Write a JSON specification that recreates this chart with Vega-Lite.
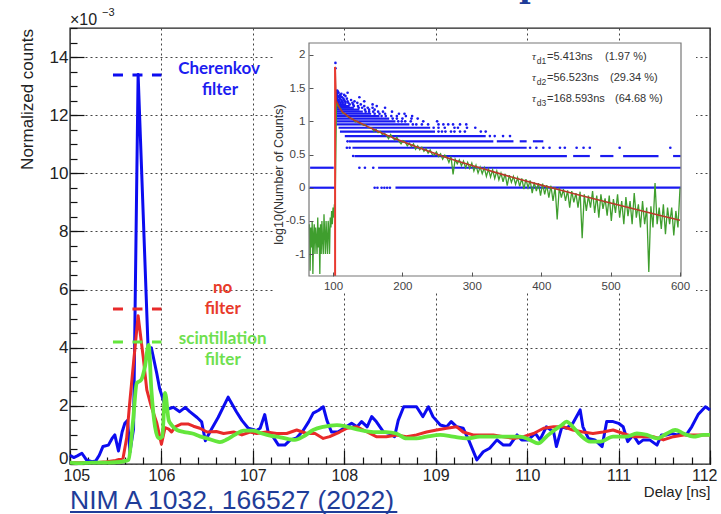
{
"$schema": "https://vega.github.io/schema/vega-lite/v6.json",
"width": 640, "height": 436,
"autosize": {"type": "none"},
"padding": {"left": 70, "top": 28, "right": 11, "bottom": 50},
"background": "#ffffff",
"config": {"view": {"stroke": "#222222", "strokeWidth": 1.4}, "font": "Liberation Sans"},
"datasets": {
"main": [
{"s":"b","t":105.00,"v":0.30},{"s":"b","t":105.04,"v":0.22},{"s":"b","t":105.08,"v":0.28},{"s":"b","t":105.13,"v":0.37},{"s":"b","t":105.18,"v":0.14},{"s":"b","t":105.24,"v":0.08},{"s":"b","t":105.28,"v":0.10},{"s":"b","t":105.32,"v":0.30},{"s":"b","t":105.36,"v":0.60},{"s":"b","t":105.42,"v":0.65},{"s":"b","t":105.46,"v":0.88},{"s":"b","t":105.49,"v":1.00},{"s":"b","t":105.53,"v":0.45},{"s":"b","t":105.57,"v":1.10},{"s":"b","t":105.60,"v":1.40},{"s":"b","t":105.63,"v":1.50},{"s":"b","t":105.655,"v":0.40},{"s":"b","t":105.695,"v":1.20},{"s":"b","t":105.745,"v":13.40},{"s":"b","t":105.855,"v":3.90},{"s":"b","t":105.89,"v":4.00},{"s":"b","t":105.95,"v":3.10},{"s":"b","t":105.98,"v":2.60},{"s":"b","t":106.04,"v":2.00},{"s":"b","t":106.08,"v":1.90},{"s":"b","t":106.13,"v":1.95},{"s":"b","t":106.20,"v":1.80},{"s":"b","t":106.26,"v":1.95},{"s":"b","t":106.31,"v":1.80},{"s":"b","t":106.39,"v":1.60},{"s":"b","t":106.44,"v":1.45},{"s":"b","t":106.48,"v":0.80},{"s":"b","t":106.53,"v":1.10},{"s":"b","t":106.62,"v":1.60},{"s":"b","t":106.73,"v":2.30},{"s":"b","t":106.82,"v":1.80},{"s":"b","t":106.88,"v":1.50},{"s":"b","t":106.95,"v":1.23},{"s":"b","t":107.04,"v":1.15},{"s":"b","t":107.08,"v":1.23},{"s":"b","t":107.13,"v":1.70},{"s":"b","t":107.17,"v":1.05},{"s":"b","t":107.22,"v":0.94},{"s":"b","t":107.28,"v":0.65},{"s":"b","t":107.35,"v":0.65},{"s":"b","t":107.41,"v":0.83},{"s":"b","t":107.48,"v":0.90},{"s":"b","t":107.55,"v":1.15},{"s":"b","t":107.61,"v":1.45},{"s":"b","t":107.66,"v":1.75},{"s":"b","t":107.72,"v":1.85},{"s":"b","t":107.77,"v":1.97},{"s":"b","t":107.81,"v":1.50},{"s":"b","t":107.86,"v":1.10},{"s":"b","t":107.93,"v":1.10},{"s":"b","t":108.03,"v":1.30},{"s":"b","t":108.08,"v":1.40},{"s":"b","t":108.14,"v":1.28},{"s":"b","t":108.19,"v":1.46},{"s":"b","t":108.25,"v":1.28},{"s":"b","t":108.30,"v":1.63},{"s":"b","t":108.35,"v":1.46},{"s":"b","t":108.43,"v":1.10},{"s":"b","t":108.50,"v":1.05},{"s":"b","t":108.55,"v":0.94},{"s":"b","t":108.59,"v":1.50},{"s":"b","t":108.65,"v":1.97},{"s":"b","t":108.79,"v":1.97},{"s":"b","t":108.86,"v":1.63},{"s":"b","t":108.92,"v":1.97},{"s":"b","t":108.97,"v":1.63},{"s":"b","t":109.05,"v":1.34},{"s":"b","t":109.12,"v":1.28},{"s":"b","t":109.17,"v":1.46},{"s":"b","t":109.23,"v":1.28},{"s":"b","t":109.30,"v":1.23},{"s":"b","t":109.36,"v":0.83},{"s":"b","t":109.45,"v":0.14},{"s":"b","t":109.52,"v":0.42},{"s":"b","t":109.59,"v":0.54},{"s":"b","t":109.67,"v":0.83},{"s":"b","t":109.74,"v":0.65},{"s":"b","t":109.81,"v":0.65},{"s":"b","t":109.89,"v":1.00},{"s":"b","t":109.94,"v":0.83},{"s":"b","t":110.01,"v":0.83},{"s":"b","t":110.09,"v":1.05},{"s":"b","t":110.14,"v":0.83},{"s":"b","t":110.21,"v":1.28},{"s":"b","t":110.29,"v":1.10},{"s":"b","t":110.32,"v":0.60},{"s":"b","t":110.38,"v":1.28},{"s":"b","t":110.43,"v":1.23},{"s":"b","t":110.50,"v":1.40},{"s":"b","t":110.58,"v":1.86},{"s":"b","t":110.61,"v":1.28},{"s":"b","t":110.67,"v":0.88},{"s":"b","t":110.74,"v":0.83},{"s":"b","t":110.82,"v":0.60},{"s":"b","t":110.87,"v":1.46},{"s":"b","t":110.94,"v":1.46},{"s":"b","t":111.00,"v":1.40},{"s":"b","t":111.05,"v":1.28},{"s":"b","t":111.10,"v":0.77},{"s":"b","t":111.16,"v":1.00},{"s":"b","t":111.22,"v":0.71},{"s":"b","t":111.27,"v":0.83},{"s":"b","t":111.34,"v":0.83},{"s":"b","t":111.42,"v":0.65},{"s":"b","t":111.47,"v":1.00},{"s":"b","t":111.53,"v":1.00},{"s":"b","t":111.58,"v":1.05},{"s":"b","t":111.64,"v":1.00},{"s":"b","t":111.69,"v":1.05},{"s":"b","t":111.74,"v":1.00},{"s":"b","t":111.80,"v":1.28},{"s":"b","t":111.87,"v":1.70},{"s":"b","t":111.95,"v":1.97},{"s":"b","t":112.00,"v":1.86},
{"s":"r","t":105.00,"v":0.05},{"s":"r","t":105.10,"v":0.04},{"s":"r","t":105.20,"v":0.05},{"s":"r","t":105.30,"v":0.05},{"s":"r","t":105.40,"v":0.08},{"s":"r","t":105.50,"v":0.12},{"s":"r","t":105.58,"v":0.20},{"s":"r","t":105.62,"v":0.90},{"s":"r","t":105.65,"v":2.00},{"s":"r","t":105.68,"v":3.00},{"s":"r","t":105.745,"v":5.10},{"s":"r","t":105.80,"v":3.70},{"s":"r","t":105.84,"v":2.55},{"s":"r","t":105.89,"v":1.97},{"s":"r","t":105.95,"v":1.40},{"s":"r","t":106.00,"v":0.68},{"s":"r","t":106.04,"v":1.25},{"s":"r","t":106.08,"v":1.20},{"s":"r","t":106.11,"v":1.10},{"s":"r","t":106.15,"v":1.28},{"s":"r","t":106.22,"v":1.38},{"s":"r","t":106.29,"v":1.38},{"s":"r","t":106.35,"v":1.30},{"s":"r","t":106.42,"v":1.23},{"s":"r","t":106.50,"v":1.10},{"s":"r","t":106.60,"v":1.12},{"s":"r","t":106.68,"v":1.05},{"s":"r","t":106.79,"v":1.10},{"s":"r","t":106.88,"v":1.00},{"s":"r","t":106.97,"v":1.10},{"s":"r","t":107.04,"v":1.05},{"s":"r","t":107.15,"v":1.10},{"s":"r","t":107.26,"v":1.05},{"s":"r","t":107.37,"v":1.05},{"s":"r","t":107.48,"v":1.17},{"s":"r","t":107.59,"v":1.05},{"s":"r","t":107.68,"v":1.05},{"s":"r","t":107.77,"v":0.88},{"s":"r","t":107.84,"v":0.94},{"s":"r","t":107.95,"v":1.10},{"s":"r","t":108.03,"v":1.23},{"s":"r","t":108.14,"v":1.28},{"s":"r","t":108.25,"v":1.10},{"s":"r","t":108.35,"v":0.94},{"s":"r","t":108.46,"v":0.94},{"s":"r","t":108.57,"v":1.00},{"s":"r","t":108.68,"v":0.94},{"s":"r","t":108.79,"v":1.00},{"s":"r","t":108.90,"v":1.10},{"s":"r","t":109.01,"v":1.17},{"s":"r","t":109.12,"v":1.23},{"s":"r","t":109.23,"v":1.28},{"s":"r","t":109.30,"v":1.10},{"s":"r","t":109.41,"v":1.00},{"s":"r","t":109.52,"v":1.00},{"s":"r","t":109.63,"v":1.00},{"s":"r","t":109.74,"v":0.94},{"s":"r","t":109.85,"v":0.88},{"s":"r","t":109.96,"v":0.94},{"s":"r","t":110.07,"v":1.05},{"s":"r","t":110.18,"v":1.23},{"s":"r","t":110.29,"v":1.28},{"s":"r","t":110.40,"v":1.28},{"s":"r","t":110.50,"v":1.17},{"s":"r","t":110.61,"v":1.10},{"s":"r","t":110.72,"v":1.05},{"s":"r","t":110.83,"v":1.10},{"s":"r","t":110.94,"v":1.17},{"s":"r","t":111.05,"v":1.05},{"s":"r","t":111.16,"v":0.94},{"s":"r","t":111.27,"v":0.94},{"s":"r","t":111.38,"v":0.94},{"s":"r","t":111.49,"v":0.83},{"s":"r","t":111.60,"v":0.94},{"s":"r","t":111.71,"v":1.00},{"s":"r","t":111.82,"v":1.00},{"s":"r","t":111.93,"v":1.00},{"s":"r","t":112.00,"v":1.00},
{"s":"g","t":105.00,"v":0.05},{"s":"g","t":105.10,"v":0.03},{"s":"g","t":105.20,"v":0.04},{"s":"g","t":105.30,"v":0.05},{"s":"g","t":105.40,"v":0.05},{"s":"g","t":105.50,"v":0.06},{"s":"g","t":105.60,"v":0.10},{"s":"g","t":105.64,"v":0.15},{"s":"g","t":105.69,"v":1.50},{"s":"g","t":105.73,"v":2.78},{"s":"g","t":105.78,"v":2.90},{"s":"g","t":105.82,"v":3.35},{"s":"g","t":105.86,"v":4.10},{"s":"g","t":105.89,"v":2.55},{"s":"g","t":105.93,"v":1.28},{"s":"g","t":105.97,"v":0.88},{"s":"g","t":106.01,"v":0.95},{"s":"g","t":106.04,"v":2.45},{"s":"g","t":106.08,"v":1.50},{"s":"g","t":106.11,"v":1.35},{"s":"g","t":106.17,"v":1.17},{"s":"g","t":106.25,"v":1.10},{"s":"g","t":106.34,"v":1.05},{"s":"g","t":106.42,"v":0.95},{"s":"g","t":106.50,"v":0.88},{"s":"g","t":106.58,"v":0.80},{"s":"g","t":106.64,"v":0.75},{"s":"g","t":106.72,"v":0.85},{"s":"g","t":106.80,"v":1.00},{"s":"g","t":106.90,"v":1.15},{"s":"g","t":107.00,"v":1.15},{"s":"g","t":107.10,"v":1.05},{"s":"g","t":107.20,"v":0.97},{"s":"g","t":107.30,"v":0.92},{"s":"g","t":107.40,"v":0.85},{"s":"g","t":107.46,"v":0.83},{"s":"g","t":107.55,"v":0.94},{"s":"g","t":107.66,"v":1.17},{"s":"g","t":107.77,"v":1.28},{"s":"g","t":107.92,"v":1.34},{"s":"g","t":108.03,"v":1.28},{"s":"g","t":108.17,"v":1.17},{"s":"g","t":108.32,"v":1.10},{"s":"g","t":108.46,"v":1.10},{"s":"g","t":108.57,"v":1.05},{"s":"g","t":108.68,"v":0.88},{"s":"g","t":108.79,"v":0.88},{"s":"g","t":108.90,"v":0.94},{"s":"g","t":109.05,"v":1.00},{"s":"g","t":109.19,"v":0.94},{"s":"g","t":109.34,"v":0.88},{"s":"g","t":109.48,"v":0.94},{"s":"g","t":109.63,"v":0.94},{"s":"g","t":109.78,"v":0.94},{"s":"g","t":109.92,"v":0.94},{"s":"g","t":110.03,"v":0.83},{"s":"g","t":110.12,"v":0.71},{"s":"g","t":110.21,"v":0.94},{"s":"g","t":110.30,"v":1.17},{"s":"g","t":110.38,"v":1.34},{"s":"g","t":110.43,"v":1.46},{"s":"g","t":110.50,"v":1.28},{"s":"g","t":110.58,"v":1.00},{"s":"g","t":110.69,"v":0.77},{"s":"g","t":110.80,"v":0.77},{"s":"g","t":110.94,"v":0.94},{"s":"g","t":111.09,"v":0.94},{"s":"g","t":111.20,"v":1.05},{"s":"g","t":111.31,"v":1.00},{"s":"g","t":111.42,"v":0.88},{"s":"g","t":111.53,"v":1.05},{"s":"g","t":111.62,"v":1.17},{"s":"g","t":111.71,"v":1.05},{"s":"g","t":111.82,"v":0.94},{"s":"g","t":111.93,"v":1.00},{"s":"g","t":112.00,"v":1.00}
],
"segs": [
{"x":66,"x2":103,"y":0},{"x":190,"x2":601,"y":0},
{"x":67,"x2":101,"y":0.301},{"x":165,"x2":601,"y":0.301},
{"x":131,"x2":437,"y":0.477},{"x":446,"x2":470,"y":0.477},{"x":485,"x2":504,"y":0.477},{"x":518,"x2":569,"y":0.477},{"x":590,"x2":601,"y":0.477},
{"x":128,"x2":379,"y":0.602},
{"x":123,"x2":331,"y":0.699},{"x":336,"x2":360,"y":0.699},{"x":369,"x2":379,"y":0.699},{"x":388,"x2":403,"y":0.699},
{"x":117,"x2":320,"y":0.778},
{"x":110,"x2":247,"y":0.845},
{"x":108,"x2":240,"y":0.903},
{"x":105,"x2":210,"y":0.954},
{"x":105,"x2":190,"y":1.0},
{"x":105,"x2":181,"y":1.041},
{"x":105,"x2":167,"y":1.079},
{"x":105,"x2":155,"y":1.114},
{"x":105,"x2":143,"y":1.146},
{"x":105,"x2":138,"y":1.176},
{"x":105,"x2":130,"y":1.204},
{"x":105,"x2":124,"y":1.23},
{"x":105,"x2":119,"y":1.255}
],
"pts": [
{"x":160,"y":0},{"x":164,"y":0},{"x":170,"y":0},{"x":174,"y":0},{"x":178,"y":0},{"x":182,"y":0},
{"x":138,"y":0.301},{"x":146,"y":0.301},{"x":158,"y":0.301},
{"x":129,"y":0.477},
{"x":120,"y":0.602},{"x":124,"y":0.602},{"x":384,"y":0.602},{"x":393,"y":0.602},{"x":403,"y":0.602},{"x":412,"y":0.602},{"x":427,"y":0.602},{"x":434,"y":0.602},{"x":451,"y":0.602},{"x":461,"y":0.602},{"x":470,"y":0.602},{"x":513,"y":0.602},{"x":586,"y":0.602},
{"x":121,"y":0.699},
{"x":326,"y":0.778},{"x":333,"y":0.778},{"x":345,"y":0.778},{"x":355,"y":0.778},
{"x":252,"y":0.845},{"x":257,"y":0.845},{"x":262,"y":0.845},{"x":270,"y":0.845},{"x":275,"y":0.845},{"x":283,"y":0.845},{"x":290,"y":0.845},{"x":313,"y":0.845},{"x":320,"y":0.845},
{"x":245,"y":0.903},{"x":252,"y":0.903},{"x":261,"y":0.903},{"x":275,"y":0.903},{"x":280,"y":0.903},{"x":293,"y":0.903},{"x":305,"y":0.903},
{"x":215,"y":0.954},{"x":220,"y":0.954},{"x":228,"y":0.954},{"x":237,"y":0.954},{"x":252,"y":0.954},{"x":259,"y":0.954},{"x":266,"y":0.954},{"x":273,"y":0.954},{"x":283,"y":0.954},{"x":292,"y":0.954},
{"x":194,"y":1.0},{"x":199,"y":1.0},{"x":204,"y":1.0},{"x":212,"y":1.0},{"x":230,"y":1.0},{"x":250,"y":1.0},
{"x":186,"y":1.041},{"x":192,"y":1.041},{"x":200,"y":1.041},{"x":213,"y":1.041},{"x":222,"y":1.041},
{"x":170,"y":1.079},{"x":176,"y":1.079},{"x":184,"y":1.079},{"x":192,"y":1.079},{"x":205,"y":1.079},{"x":214,"y":1.079},
{"x":160,"y":1.114},{"x":167,"y":1.114},{"x":175,"y":1.114},{"x":195,"y":1.114},{"x":203,"y":1.114},
{"x":147,"y":1.146},{"x":152,"y":1.146},{"x":158,"y":1.146},{"x":165,"y":1.146},{"x":172,"y":1.146},{"x":185,"y":1.146},
{"x":146,"y":1.176},{"x":152,"y":1.176},{"x":160,"y":1.176},
{"x":137,"y":1.204},{"x":142,"y":1.204},{"x":150,"y":1.204},{"x":157,"y":1.204},{"x":175,"y":1.204},
{"x":130,"y":1.23},{"x":136,"y":1.23},{"x":145,"y":1.23},{"x":163,"y":1.23},
{"x":124,"y":1.255},{"x":129,"y":1.255},{"x":140,"y":1.255},{"x":157,"y":1.255},
{"x":105,"y":1.279},{"x":108,"y":1.279},{"x":111,"y":1.279},{"x":114,"y":1.279},{"x":118,"y":1.279},{"x":122,"y":1.279},{"x":128,"y":1.279},{"x":135,"y":1.279},
{"x":106,"y":1.301},{"x":109,"y":1.301},{"x":113,"y":1.301},{"x":117,"y":1.301},{"x":121,"y":1.301},{"x":131,"y":1.301},{"x":145,"y":1.301},
{"x":105,"y":1.322},{"x":108,"y":1.322},{"x":112,"y":1.322},{"x":116,"y":1.322},{"x":126,"y":1.322},
{"x":106,"y":1.342},{"x":110,"y":1.342},{"x":115,"y":1.342},{"x":120,"y":1.342},
{"x":105,"y":1.362},{"x":109,"y":1.362},{"x":113,"y":1.362},{"x":138,"y":1.362},
{"x":107,"y":1.38},{"x":111,"y":1.38},{"x":118,"y":1.38},
{"x":105,"y":1.398},{"x":110,"y":1.398},{"x":116,"y":1.398},
{"x":106,"y":1.415},{"x":112,"y":1.415},
{"x":105,"y":1.431},{"x":108,"y":1.431},{"x":121,"y":1.431},
{"x":107,"y":1.447},{"x":106,"y":1.462},
{"x":103.5,"y":1.80},{"x":103.5,"y":1.88}
],
"green": [
{"x":66,"y":-0.55},{"x":67,"y":-1.25},{"x":68,"y":-0.6},{"x":69,"y":-0.9},{"x":70,"y":-0.5},{"x":71,"y":-1.3},{"x":72,"y":-0.7},{"x":73,"y":-0.55},{"x":74,"y":-1.0},{"x":75,"y":-0.6},{"x":76,"y":-0.75},{"x":77,"y":-1.0},{"x":78,"y":-0.45},{"x":79,"y":-0.9},{"x":80,"y":-0.6},{"x":81,"y":-1.3},{"x":82,"y":-0.55},{"x":83,"y":-1.0},{"x":84,"y":-0.5},{"x":85,"y":-0.8},{"x":86,"y":-1.0},{"x":87,"y":-0.4},{"x":88,"y":-0.7},{"x":89,"y":-1.0},{"x":90,"y":-0.5},{"x":91,"y":-0.75},{"x":92,"y":-1.0},{"x":93,"y":-0.5},{"x":94,"y":-0.65},{"x":95,"y":-1.0},{"x":96,"y":-0.45},{"x":97,"y":-0.6},{"x":98,"y":-0.35},{"x":99,"y":-0.55},{"x":100,"y":-0.3},{"x":101,"y":-0.45},{"x":102,"y":-0.25},{"x":103,"y":-0.3},
{"x":105,"y":1.27},{"x":108,"y":1.22},{"x":111,"y":1.19},{"x":114,"y":1.12},{"x":117,"y":1.12},{"x":120,"y":1.08},{"x":123,"y":1.06},{"x":126,"y":1.04},{"x":129,"y":1.03},{"x":132,"y":0.99},{"x":135,"y":1.0},{"x":138,"y":0.97},{"x":141,"y":0.96},{"x":144,"y":0.94},{"x":147,"y":0.95},{"x":150,"y":0.91},{"x":153,"y":0.90},{"x":156,"y":0.9},{"x":159,"y":0.85},{"x":162,"y":0.88},{"x":165,"y":0.83},{"x":168,"y":0.85},{"x":171,"y":0.80},{"x":174,"y":0.82},{"x":177,"y":0.79},{"x":180,"y":0.74},{"x":183,"y":0.80},{"x":186,"y":0.75},{"x":189,"y":0.72},{"x":192,"y":0.76},{"x":195,"y":0.70},{"x":198,"y":0.66},{"x":201,"y":0.71},{"x":204,"y":0.69},{"x":207,"y":0.63},{"x":210,"y":0.67},{"x":213,"y":0.62},{"x":216,"y":0.66},{"x":219,"y":0.58},{"x":222,"y":0.63},{"x":225,"y":0.57},{"x":228,"y":0.61},{"x":231,"y":0.55},{"x":234,"y":0.59},{"x":237,"y":0.52},{"x":240,"y":0.57},{"x":243,"y":0.50},{"x":246,"y":0.49},{"x":249,"y":0.54},{"x":252,"y":0.47},{"x":255,"y":0.51},{"x":258,"y":0.43},{"x":261,"y":0.49},{"x":264,"y":0.46},{"x":267,"y":0.38},{"x":270,"y":0.47},{"x":273,"y":0.20},{"x":276,"y":0.43},{"x":279,"y":0.36},{"x":282,"y":0.42},{"x":285,"y":0.33},{"x":288,"y":0.40},{"x":291,"y":0.30},{"x":294,"y":0.38},{"x":297,"y":0.29},{"x":300,"y":0.37},{"x":303,"y":0.25},{"x":306,"y":0.34},{"x":309,"y":0.22},{"x":312,"y":0.31},{"x":315,"y":0.21},{"x":318,"y":0.30},{"x":321,"y":0.17},{"x":324,"y":0.28},{"x":327,"y":0.16},{"x":330,"y":0.27},{"x":333,"y":0.14},{"x":336,"y":0.25},{"x":339,"y":0.12},{"x":342,"y":0.22},{"x":345,"y":0.09},{"x":348,"y":0.21},{"x":351,"y":0.03},{"x":354,"y":0.19},{"x":357,"y":0.08},{"x":360,"y":0.17},{"x":363,"y":0.05},{"x":366,"y":0.15},{"x":369,"y":0.02},{"x":372,"y":0.14},{"x":375,"y":-0.02},{"x":378,"y":0.13},{"x":381,"y":0.0},{"x":384,"y":0.11},{"x":387,"y":-0.08},{"x":390,"y":0.08},{"x":393,"y":-0.05},{"x":396,"y":0.07},{"x":399,"y":-0.12},{"x":402,"y":0.06},{"x":405,"y":-0.1},{"x":408,"y":0.04},{"x":411,"y":-0.15},{"x":414,"y":0.03},{"x":417,"y":-0.2},{"x":420,"y":0.01},{"x":423,"y":-0.48},{"x":426,"y":0.0},{"x":429,"y":-0.15},{"x":432,"y":-0.02},{"x":435,"y":-0.2},{"x":438,"y":-0.04},{"x":441,"y":-0.3},{"x":444,"y":-0.05},{"x":447,"y":-0.22},{"x":450,"y":-0.08},{"x":453,"y":-0.3},{"x":456,"y":-0.06},{"x":459,"y":-0.76},{"x":462,"y":-0.1},{"x":465,"y":-0.35},{"x":468,"y":-0.12},{"x":471,"y":-0.3},{"x":474,"y":-0.05},{"x":477,"y":-0.38},{"x":480,"y":-0.12},{"x":483,"y":-0.45},{"x":486,"y":-0.1},{"x":489,"y":-0.32},{"x":492,"y":-0.16},{"x":495,"y":-0.42},{"x":498,"y":-0.12},{"x":501,"y":-0.5},{"x":504,"y":-0.17},{"x":507,"y":-0.38},{"x":510,"y":-0.1},{"x":513,"y":-0.45},{"x":516,"y":-0.2},{"x":519,"y":-0.55},{"x":522,"y":-0.14},{"x":525,"y":-0.43},{"x":528,"y":-0.2},{"x":531,"y":-0.55},{"x":534,"y":-0.08},{"x":537,"y":-0.45},{"x":540,"y":-0.25},{"x":543,"y":-0.6},{"x":546,"y":-0.2},{"x":549,"y":-0.55},{"x":552,"y":-0.3},{"x":555,"y":-1.27},{"x":558,"y":-0.28},{"x":561,"y":-0.6},{"x":564,"y":0.07},{"x":567,"y":-0.55},{"x":570,"y":-0.3},{"x":573,"y":-0.62},{"x":576,"y":-0.25},{"x":579,"y":-0.7},{"x":582,"y":-0.3},{"x":585,"y":-0.55},{"x":588,"y":-0.3},{"x":591,"y":-0.72},{"x":594,"y":-0.35},{"x":597,"y":-0.6},{"x":600,"y":0.0}
],
"fit": [
{"x":103,"y":1.82},{"x":104.5,"y":1.31},{"x":105,"y":1.30},{"x":110,"y":1.19},{"x":115,"y":1.13},{"x":120,"y":1.09},{"x":125,"y":1.05},{"x":130,"y":1.02},{"x":140,"y":0.97},{"x":150,"y":0.92},{"x":160,"y":0.872},{"x":170,"y":0.826},{"x":180,"y":0.781},{"x":190,"y":0.738},{"x":200,"y":0.696},{"x":220,"y":0.616},{"x":240,"y":0.54},{"x":260,"y":0.468},{"x":280,"y":0.40},{"x":300,"y":0.335},{"x":320,"y":0.273},{"x":340,"y":0.212},{"x":370,"y":0.124},{"x":400,"y":0.039},{"x":430,"y":-0.043},{"x":450,"y":-0.098},{"x":470,"y":-0.152},{"x":500,"y":-0.231},{"x":530,"y":-0.31},{"x":550,"y":-0.362},{"x":570,"y":-0.414},{"x":600,"y":-0.49}
]
},
"resolve": {"scale": {"x": "independent", "y": "independent"}, "axis": {"x": "independent", "y": "independent"}},
"layer": [
 {"data": {"name": "main"}, "transform": [{"filter": "datum.s === 'b'"}],
  "mark": {"type": "line", "color": "#0c0cf0", "strokeWidth": 3, "strokeJoin": "round"},
  "encoding": {
   "x": {"field": "t", "type": "quantitative", "scale": {"domain": [105, 112], "nice": false, "zero": false},
    "axis": {"orient": "bottom", "values": [105,105.2,105.4,105.6,105.8,106,106.2,106.4,106.6,106.8,107,107.2,107.4,107.6,107.8,108,108.2,108.4,108.6,108.8,109,109.2,109.4,109.6,109.8,110,110.2,110.4,110.6,110.8,111,111.2,111.4,111.6,111.8,112],
     "labelExpr": "abs(datum.value - round(datum.value)) < 0.001 ? format(datum.value, 'd') : ''",
     "tickSize": -7, "tickColor": "#111111", "tickWidth": 1.2, "labelPadding": 10, "labelFontSize": 16, "labelColor": "#222222", "labelFont": "Liberation Sans",
     "labelOverlap": false, "labelFlush": true, "labelFlushOffset": 7, "domain": false, "grid": false,
     "title": "Delay [ns]", "titleFontSize": 15, "titleFontWeight": "normal", "titleColor": "#222222", "titleFont": "Liberation Sans",
     "titleAlign": "right", "titleBaseline": "middle", "titleX": 640, "titleY": 27}},
   "y": {"field": "v", "type": "quantitative", "scale": {"domain": [0, 15], "nice": false, "zero": false},
    "axis": {"orient": "left", "values": [0,0.5,1,1.5,2,2.5,3,3.5,4,4.5,5,5.5,6,6.5,7,7.5,8,8.5,9,9.5,10,10.5,11,11.5,12,12.5,13,13.5,14,14.5,15],
     "labelExpr": "datum.value % 2 === 0 && datum.value < 15 ? format(datum.value, 'd') : ''",
     "tickSize": -7, "tickColor": "#111111", "tickWidth": 1.2, "labelPadding": 9, "labelFontSize": 17, "labelColor": "#222222", "labelFont": "Liberation Sans",
     "labelOverlap": false, "labelFlush": true, "labelFlushOffset": 3, "domain": false, "grid": false,
     "title": "Normalized counts", "titleFontSize": 17, "titleFontWeight": "normal", "titleColor": "#222222", "titleFont": "Liberation Sans",
     "titleAngle": 270, "titleAlign": "center", "titleBaseline": "bottom", "titleX": -34, "titleY": 71}}
  }},
 {"data": {"name": "main"}, "transform": [{"filter": "datum.s === 'r'"}],
  "mark": {"type": "line", "color": "#e82a2a", "strokeWidth": 3, "strokeJoin": "round"},
  "encoding": {
   "x": {"field": "t", "type": "quantitative", "scale": {"domain": [105, 112], "nice": false, "zero": false},
    "axis": {"orient": "bottom", "values": [105,106,107,108,109,110,111,112], "grid": true, "gridDash": [2, 3], "gridColor": "#444444", "gridWidth": 1, "labels": false, "ticks": true, "tickSize": -14, "tickColor": "#111111", "tickWidth": 1.2, "domain": false, "title": null}},
   "y": {"field": "v", "type": "quantitative", "scale": {"domain": [0, 15], "nice": false, "zero": false},
    "axis": {"orient": "left", "values": [0,2,4,6,8,10,12,14], "grid": true, "gridDash": [2, 3], "gridColor": "#444444", "gridWidth": 1, "labels": false, "ticks": true, "tickSize": -14, "tickColor": "#111111", "tickWidth": 1.2, "domain": false, "title": null}}}},
 {"data": {"name": "main"}, "transform": [{"filter": "datum.s === 'g'"}],
  "mark": {"type": "line", "color": "#64e63c", "strokeWidth": 3.8, "strokeJoin": "round", "interpolate": "monotone"},
  "encoding": {"x": {"field": "t", "type": "quantitative", "scale": {"domain": [105, 112], "nice": false, "zero": false}, "axis": null}, "y": {"field": "v", "type": "quantitative", "scale": {"domain": [0, 15], "nice": false, "zero": false}, "axis": null}}},
 {"data": {"values": [{}]}, "mark": {"type": "rule", "color": "#0c0cf0", "strokeWidth": 3, "strokeDash": [10, 9.5]},
  "encoding": {"x": {"datum": 105.47, "type": "quantitative", "scale": {"domain": [105, 112], "nice": false, "zero": false}, "axis": null}, "x2": {"datum": 106.0}, "y": {"datum": 13.38, "type": "quantitative", "scale": {"domain": [0, 15], "nice": false, "zero": false}, "axis": null}}},
 {"data": {"values": [{}]}, "mark": {"type": "rule", "color": "#e82a2a", "strokeWidth": 3, "strokeDash": [10, 9.5]},
  "encoding": {"x": {"datum": 105.47, "type": "quantitative", "scale": {"domain": [105, 112], "nice": false, "zero": false}, "axis": null}, "x2": {"datum": 106.0}, "y": {"datum": 5.33, "type": "quantitative", "scale": {"domain": [0, 15], "nice": false, "zero": false}, "axis": null}}},
 {"data": {"values": [{}]}, "mark": {"type": "rule", "color": "#64e63c", "strokeWidth": 3, "strokeDash": [10, 9.5]},
  "encoding": {"x": {"datum": 105.47, "type": "quantitative", "scale": {"domain": [105, 112], "nice": false, "zero": false}, "axis": null}, "x2": {"datum": 106.0}, "y": {"datum": 4.2, "type": "quantitative", "scale": {"domain": [0, 15], "nice": false, "zero": false}, "axis": null}}},
 {"data": {"values": [{"t":106.63,"v":13.59,"label":"Cherenkov"},{"t":106.64,"v":12.87,"label":"filter"}]},
  "mark": {"type": "text", "font": "Lato", "fontWeight": "bold", "fontSize": 17, "color": "#1c1cf0", "align": "center", "baseline": "middle"},
  "encoding": {"x": {"field": "t", "type": "quantitative", "scale": {"domain": [105, 112], "nice": false, "zero": false}, "axis": null}, "y": {"field": "v", "type": "quantitative", "scale": {"domain": [0, 15], "nice": false, "zero": false}, "axis": null}, "text": {"field": "label"}}},
 {"data": {"values": [{"t":106.67,"v":6.05,"label":"no"},{"t":106.67,"v":5.33,"label":"filter"}]},
  "mark": {"type": "text", "font": "Lato", "fontWeight": "bold", "fontSize": 17, "color": "#e83a2a", "align": "center", "baseline": "middle"},
  "encoding": {"x": {"field": "t", "type": "quantitative", "scale": {"domain": [105, 112], "nice": false, "zero": false}, "axis": null}, "y": {"field": "v", "type": "quantitative", "scale": {"domain": [0, 15], "nice": false, "zero": false}, "axis": null}, "text": {"field": "label"}}},
 {"data": {"values": [{"t":106.67,"v":4.3,"label":"scintillation"},{"t":106.67,"v":3.58,"label":"filter"}]},
  "mark": {"type": "text", "font": "Lato", "fontWeight": "bold", "fontSize": 17, "color": "#6ee04e", "align": "center", "baseline": "middle"},
  "encoding": {"x": {"field": "t", "type": "quantitative", "scale": {"domain": [105, 112], "nice": false, "zero": false}, "axis": null}, "y": {"field": "v", "type": "quantitative", "scale": {"domain": [0, 15], "nice": false, "zero": false}, "axis": null}, "text": {"field": "label"}}},
 {"data": {"values": [{}]}, "mark": {"type": "text", "text": "×10", "font": "Liberation Sans", "fontSize": 16, "color": "#222222", "align": "left", "baseline": "middle"},
  "encoding": {"x": {"datum": 105.0, "type": "quantitative", "scale": {"domain": [105, 112], "nice": false, "zero": false}, "axis": null}, "y": {"datum": 15.27, "type": "quantitative", "scale": {"domain": [0, 15], "nice": false, "zero": false}, "axis": null}}},
 {"data": {"values": [{}]}, "mark": {"type": "text", "text": "−3", "font": "Liberation Sans", "fontSize": 11, "color": "#222222", "align": "left", "baseline": "middle"},
  "encoding": {"x": {"datum": 105.35, "type": "quantitative", "scale": {"domain": [105, 112], "nice": false, "zero": false}, "axis": null}, "y": {"datum": 15.51, "type": "quantitative", "scale": {"domain": [0, 15], "nice": false, "zero": false}, "axis": null}}},
 {"data": {"values": [{}]}, "mark": {"type": "text", "text": "NIM A 1032, 166527 (2022)", "font": "Liberation Sans", "fontSize": 26.5, "color": "#1f3d99", "align": "left", "baseline": "alphabetic"},
  "encoding": {"x": {"datum": 105.0, "type": "quantitative", "scale": {"domain": [105, 112], "nice": false, "zero": false}, "axis": null}, "y": {"datum": -1.548, "type": "quantitative", "scale": {"domain": [0, 15], "nice": false, "zero": false}, "axis": null}}},
 {"data": {"values": [{}]}, "mark": {"type": "rule", "color": "#1f3d99", "strokeWidth": 2},
  "encoding": {"x": {"datum": 105.0, "type": "quantitative", "scale": {"domain": [105, 112], "nice": false, "zero": false}, "axis": null}, "x2": {"datum": 108.58}, "y": {"datum": -1.651, "type": "quantitative", "scale": {"domain": [0, 15], "nice": false, "zero": false}, "axis": null}}},
 {"data": {"values": [{}]}, "mark": {"type": "text", "text": "p", "font": "DejaVu Serif", "fontWeight": "bold", "fontSize": 32, "color": "#1f3d99", "align": "left", "baseline": "alphabetic"},
  "encoding": {"x": {"datum": 109.91, "type": "quantitative", "scale": {"domain": [105, 112], "nice": false, "zero": false}, "axis": null}, "y": {"datum": 16.06, "type": "quantitative", "scale": {"domain": [0, 15], "nice": false, "zero": false}, "axis": null}}},
 {"data": {"values": [{}]}, "mark": {"type": "rect", "fill": "#ffffff"},
  "encoding": {
   "x": {"datum": 16.4, "type": "quantitative", "scale": {"domain": [65.4, 601.4], "range": [239, 611], "nice": false, "zero": false},
    "axis": {"orient": "bottom", "offset": -188, "values": [100,200,300,400,500,600], "tickSize": -4, "tickColor": "#555555", "labelPadding": 8, "labelFontSize": 11.5, "labelColor": "#444444", "labelFont": "Liberation Sans", "domain": false, "grid": false, "title": null, "zindex": 1, "labelFlush": false, "labelOverlap": false}},
   "x2": {"datum": 623},
   "y": {"datum": 2.195, "type": "quantitative", "scale": {"domain": [-1.33, 2.18], "range": [248, 15], "nice": false, "zero": false},
    "axis": {"orient": "left", "offset": -239, "values": [-1,-0.5,0,0.5,1,1.5,2], "tickSize": -4, "tickColor": "#555555", "labelPadding": 8, "labelFontSize": 11.5, "labelColor": "#444444", "labelFont": "Liberation Sans", "domain": false, "grid": false, "zindex": 1, "labelFlush": false, "labelOverlap": false,
     "labelExpr": "replace(format(datum.value, '~g'), '\u2212', '-')",
     "title": "log10(Number of Counts)", "titleFontSize": 12.5, "titleFontWeight": "normal", "titleColor": "#333333", "titleFont": "Liberation Sans",
     "titleAngle": 270, "titleAlign": "center", "titleBaseline": "bottom", "titleX": -24, "titleY": 146}},
   "y2": {"datum": -1.556}
  }},
 {"data": {"name": "segs"}, "mark": {"type": "rule", "color": "#1a1af0", "strokeWidth": 2.2},
  "encoding": {"x": {"field": "x", "type": "quantitative", "scale": {"domain": [65.4, 601.4], "range": [239, 611], "nice": false, "zero": false}, "axis": null}, "x2": {"field": "x2"}, "y": {"field": "y", "type": "quantitative", "scale": {"domain": [-1.33, 2.18], "range": [248, 15], "nice": false, "zero": false}, "axis": null}}},
 {"data": {"name": "pts"}, "mark": {"type": "circle", "color": "#1a1af0", "size": 7, "opacity": 1},
  "encoding": {"x": {"field": "x", "type": "quantitative", "scale": {"domain": [65.4, 601.4], "range": [239, 611], "nice": false, "zero": false}, "axis": null}, "y": {"field": "y", "type": "quantitative", "scale": {"domain": [-1.33, 2.18], "range": [248, 15], "nice": false, "zero": false}, "axis": null}}},
 {"data": {"name": "green"}, "mark": {"type": "line", "color": "#3f9e2e", "strokeWidth": 1.3},
  "encoding": {"x": {"field": "x", "type": "quantitative", "scale": {"domain": [65.4, 601.4], "range": [239, 611], "nice": false, "zero": false}, "axis": null}, "y": {"field": "y", "type": "quantitative", "scale": {"domain": [-1.33, 2.18], "range": [248, 15], "nice": false, "zero": false}, "axis": null}}},
 {"data": {"name": "fit"}, "mark": {"type": "line", "color": "#b83a2a", "strokeWidth": 1.6},
  "encoding": {"x": {"field": "x", "type": "quantitative", "scale": {"domain": [65.4, 601.4], "range": [239, 611], "nice": false, "zero": false}, "axis": null}, "y": {"field": "y", "type": "quantitative", "scale": {"domain": [-1.33, 2.18], "range": [248, 15], "nice": false, "zero": false}, "axis": null}}},
 {"data": {"values": [{}]}, "mark": {"type": "rule", "color": "#e83a30", "strokeWidth": 2},
  "encoding": {"x": {"datum": 103, "type": "quantitative", "scale": {"domain": [65.4, 601.4], "range": [239, 611], "nice": false, "zero": false}, "axis": null}, "y": {"datum": -1.33, "type": "quantitative", "scale": {"domain": [-1.33, 2.18], "range": [248, 15], "nice": false, "zero": false}, "axis": null}, "y2": {"datum": 1.82}}},
 {"data": {"values": [{}]}, "mark": {"type": "rect", "filled": false, "stroke": "#777777", "strokeWidth": 1.2},
  "encoding": {"x": {"datum": 65.4, "type": "quantitative", "scale": {"domain": [65.4, 601.4], "range": [239, 611], "nice": false, "zero": false}, "axis": null}, "x2": {"datum": 601.4}, "y": {"datum": 2.18, "type": "quantitative", "scale": {"domain": [-1.33, 2.18], "range": [248, 15], "nice": false, "zero": false}, "axis": null}, "y2": {"datum": -1.33}}},
 {"data": {"values": [{"x":386.7,"y":1.97},{"x":386.7,"y":1.653},{"x":386.7,"y":1.336}]},
  "mark": {"type": "text", "text": "τ", "font": "Liberation Serif", "fontStyle": "italic", "fontSize": 11, "color": "#333333", "align": "left", "baseline": "middle"},
  "encoding": {"x": {"field": "x", "type": "quantitative", "scale": {"domain": [65.4, 601.4], "range": [239, 611], "nice": false, "zero": false}, "axis": null}, "y": {"field": "y", "type": "quantitative", "scale": {"domain": [-1.33, 2.18], "range": [248, 15], "nice": false, "zero": false}, "axis": null}}},
 {"data": {"values": [{"x":393.6,"y":1.915,"label":"d1"},{"x":393.6,"y":1.598,"label":"d2"},{"x":393.6,"y":1.281,"label":"d3"}]},
  "mark": {"type": "text", "font": "Liberation Sans", "fontSize": 8.5, "color": "#333333", "align": "left", "baseline": "middle"},
  "encoding": {"x": {"field": "x", "type": "quantitative", "scale": {"domain": [65.4, 601.4], "range": [239, 611], "nice": false, "zero": false}, "axis": null}, "y": {"field": "y", "type": "quantitative", "scale": {"domain": [-1.33, 2.18], "range": [248, 15], "nice": false, "zero": false}, "axis": null}, "text": {"field": "label"}}},
 {"data": {"values": [{"x":408.4,"y":1.97,"label":"=5.413ns"},{"x":408.4,"y":1.653,"label":"=56.523ns"},{"x":408.4,"y":1.336,"label":"=168.593ns"},{"x":491.9,"y":1.97,"label":"(1.97 %)"},{"x":499.1,"y":1.653,"label":"(29.34 %)"},{"x":506.3,"y":1.336,"label":"(64.68 %)"}]},
  "mark": {"type": "text", "font": "Liberation Sans", "fontSize": 11, "color": "#333333", "align": "left", "baseline": "middle"},
  "encoding": {"x": {"field": "x", "type": "quantitative", "scale": {"domain": [65.4, 601.4], "range": [239, 611], "nice": false, "zero": false}, "axis": null}, "y": {"field": "y", "type": "quantitative", "scale": {"domain": [-1.33, 2.18], "range": [248, 15], "nice": false, "zero": false}, "axis": null}, "text": {"field": "label"}}}
]
}
